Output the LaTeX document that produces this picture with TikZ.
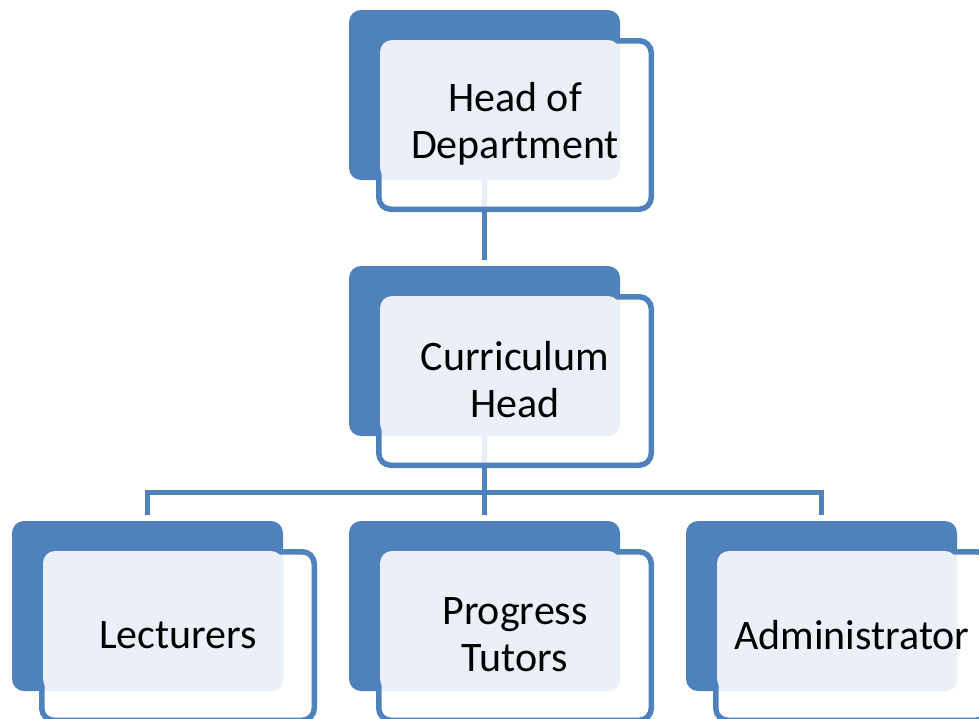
\documentclass[tikz,border=0pt]{standalone}
\usepackage{fontspec}
\setmainfont{Carlito}
\usetikzlibrary{backgrounds}
\definecolor{myblue}{HTML}{4F81BD}
\definecolor{lightbox}{HTML}{EBF0F8}
\tikzset{
  backbox/.style={rectangle, rounded corners=12pt, fill=myblue, inner sep=0pt,
    minimum width=271pt, minimum height=170pt},
  frontbox/.style={rectangle, rounded corners=12pt, draw=myblue, line width=5.5pt,
    fill=white, fill opacity=0.88, inner sep=0pt, minimum width=272.5pt, minimum height=168.5pt},
  lightfill/.style={rectangle, rounded corners=12pt, fill=lightbox, inner sep=0pt,
    minimum width=240pt, minimum height=140pt},
  label/.style={align=center, font=\fontsize{42}{47}\selectfont, text=black, inner sep=0pt},
  conn/.style={draw=myblue, line width=5pt}
}
\begin{document}
\begin{tikzpicture}[x=1pt, y=-1pt]
\clip (0,0) rectangle (979,718);
\useasboundingbox (0,0) rectangle (979,718);
% Head of Department
\node[backbox] (hodback) at (484.5,95) {};
\node[frontbox] (hodfront) at (515,125) {};
\node[lightfill] (hodlight) at (500,110) {};
\node[label] (hod) at (515,124) {Head of\\Department};
% Curriculum Head
\node[backbox] (chback) at (484.5,351) {};
\node[frontbox] (chfront) at (515,381) {};
\node[lightfill] (chlight) at (500,366) {};
\node[label] (ch) at (515,380) {Curriculum\\Head};
% Lecturers
\node[backbox] (lecback) at (147.5,606) {};
\node[frontbox] (lecfront) at (178,636) {};
\node[lightfill] (leclight) at (163,621) {};
\node[label] (lec) at (178,635) {Lecturers};
% Progress Tutors
\node[backbox] (ptback) at (484.5,606) {};
\node[frontbox] (ptfront) at (515,636) {};
\node[lightfill] (ptlight) at (500,621) {};
\node[label] (pt) at (515,635) {Progress\\Tutors};
% Administrator
\node[backbox] (admback) at (821.5,606) {};
\node[frontbox] (admfront) at (852,636) {};
\node[lightfill] (admlight) at (837,621) {};
\node[label] (adm) at (852,635) {Administrator};
% connectors
\coordinate (bus) at (484.5,492);
\begin{scope}[on background layer]
\draw[conn] (hodback.south) -- ([yshift=6pt]chback.north);
\draw[conn] (chback.south) -- ([yshift=6pt]ptback.north);
\draw[conn] ([yshift=6pt]lecback.north) |- (bus) -| ([yshift=6pt]admback.north);
\end{scope}
\end{tikzpicture}
\end{document}
